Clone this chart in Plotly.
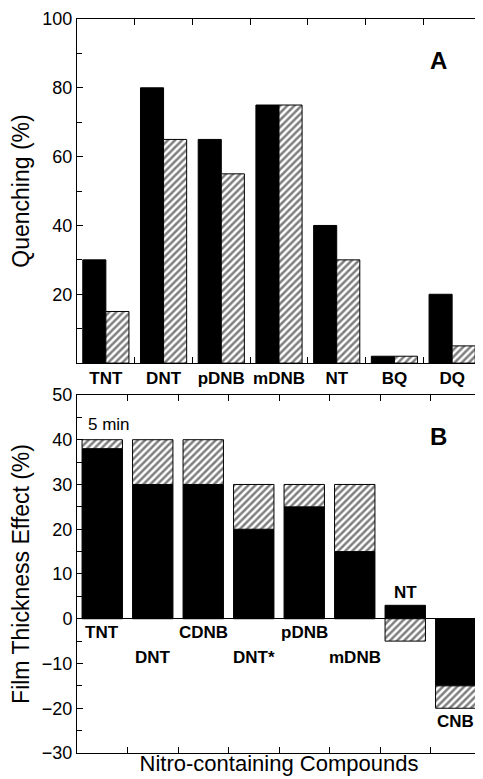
import plotly.graph_objects as go
from plotly.subplots import make_subplots

# panel A - quenching
compounds_a = ['TNT', 'DNT', 'pDNB', 'mDNB', 'NT', 'BQ', 'DQ']
quench_solid = [30, 80, 65, 75, 40, 2, 20]
quench_hatch = [15, 65, 55, 75, 30, 2, 5]

# panel B - film thickness effect (hatched part sits on top of the solid part)
compounds_b = ['TNT', 'DNT', 'CDNB', 'DNT*', 'pDNB', 'mDNB', 'NT', 'CNB']
thick_solid = [38, 30, 30, 20, 25, 15, 3, -15]
thick_hatch = [2, 10, 10, 10, 5, 15, -5, -5]

FONT = 'Liberation Sans, Arial, Helvetica, sans-serif'
hatch = dict(shape='/', fgcolor='black', bgcolor='white', size=5, solidity=0.5)

fig = make_subplots(rows=2, cols=1, vertical_spacing=0.0434)

fig.add_trace(go.Bar(x=compounds_a, y=quench_solid, offsetgroup='a1',
                     marker=dict(color='black', line=dict(color='black', width=1))), row=1, col=1)
fig.add_trace(go.Bar(x=compounds_a, y=quench_hatch, offsetgroup='a2',
                     marker=dict(color='white', pattern=hatch, line=dict(color='black', width=1))), row=1, col=1)

fig.add_trace(go.Bar(x=compounds_b, y=thick_solid, offsetgroup='b',
                     marker=dict(color='black', line=dict(color='black', width=1))), row=2, col=1)
fig.add_trace(go.Bar(x=compounds_b, y=thick_hatch, offsetgroup='b',
                     marker=dict(color='white', pattern=hatch, line=dict(color='black', width=1))), row=2, col=1)

axis_common = dict(showline=True, linecolor='black', linewidth=1, mirror='ticks',
                   ticks='inside', ticklen=6, tickcolor='black', showgrid=False,
                   tickfont=dict(family=FONT, size=18, color='black'))

fig.update_xaxes(axis_common, type='category', tickson='boundaries', zeroline=False)
fig.update_xaxes(range=[-0.5, 6.5], tickangle=0, tickfont=dict(family=FONT, size=17, weight='bold'),
                 row=1, col=1)
fig.update_xaxes(range=[-0.5, 7.5], showticklabels=False,
                 title=dict(text='Nitro-containing Compounds', font=dict(family=FONT, size=22, color='black'),
                            standoff=2), row=2, col=1)

fig.update_yaxes(axis_common, range=[0, 100], tickvals=[0, 20, 40, 60, 80, 100],
                 ticktext=['', '20', '40', '60', '80', '100'], zeroline=False,
                 minor=dict(ticks='inside', ticklen=5, tickcolor='black', dtick=10),
                 title=dict(text='Quenching (%)', font=dict(family=FONT, size=23, color='black'), standoff=6),
                 row=1, col=1)
fig.update_yaxes(axis_common, range=[-30, 50], dtick=10, tick0=0,
                 zeroline=True, zerolinecolor='black', zerolinewidth=1,
                 minor=dict(ticks='inside', ticklen=5, tickcolor='black', dtick=5),
                 title=dict(text='Film Thickness Effect (%)', font=dict(family=FONT, size=23, color='black'),
                            standoff=6),
                 row=2, col=1)

# staggered compound labels in panel B
label_y = [-3, -8.7, -3, -8.7, -3, -8.7, 5.8, -23]
for name, ly in zip(compounds_b, label_y):
    fig.add_annotation(x=name, y=ly, xref='x2', yref='y2', text='<b>' + name + '</b>',
                       showarrow=False, font=dict(family=FONT, size=17, color='black'))

fig.add_annotation(x=0.92, y=88, xref='x domain', yref='y', text='<b>A</b>', showarrow=False,
                   font=dict(family=FONT, size=24, color='black'))
fig.add_annotation(x=0.92, y=40.7, xref='x2 domain', yref='y2', text='<b>B</b>', showarrow=False,
                   font=dict(family=FONT, size=24, color='black'))
fig.add_annotation(x=0.022, y=43.3, xref='x2 domain', yref='y2', text='5 min', showarrow=False,
                   xanchor='left', font=dict(family=FONT, size=17, color='black'))

# page body adds an 8px margin, so the figure is 8px smaller and margins shifted
fig.update_layout(width=475, height=771, barmode='relative', bargap=0.2, bargroupgap=0,
                  showlegend=False, plot_bgcolor='white', paper_bgcolor='white',
                  margin=dict(l=69, r=1, t=7, b=26),
                  font=dict(family=FONT, color='black'))
fig.update_yaxes(domain=[0.5312, 1.0], row=1, col=1)
fig.update_yaxes(domain=[0.0, 0.4878], row=2, col=1)

fig.write_html('out.html')
